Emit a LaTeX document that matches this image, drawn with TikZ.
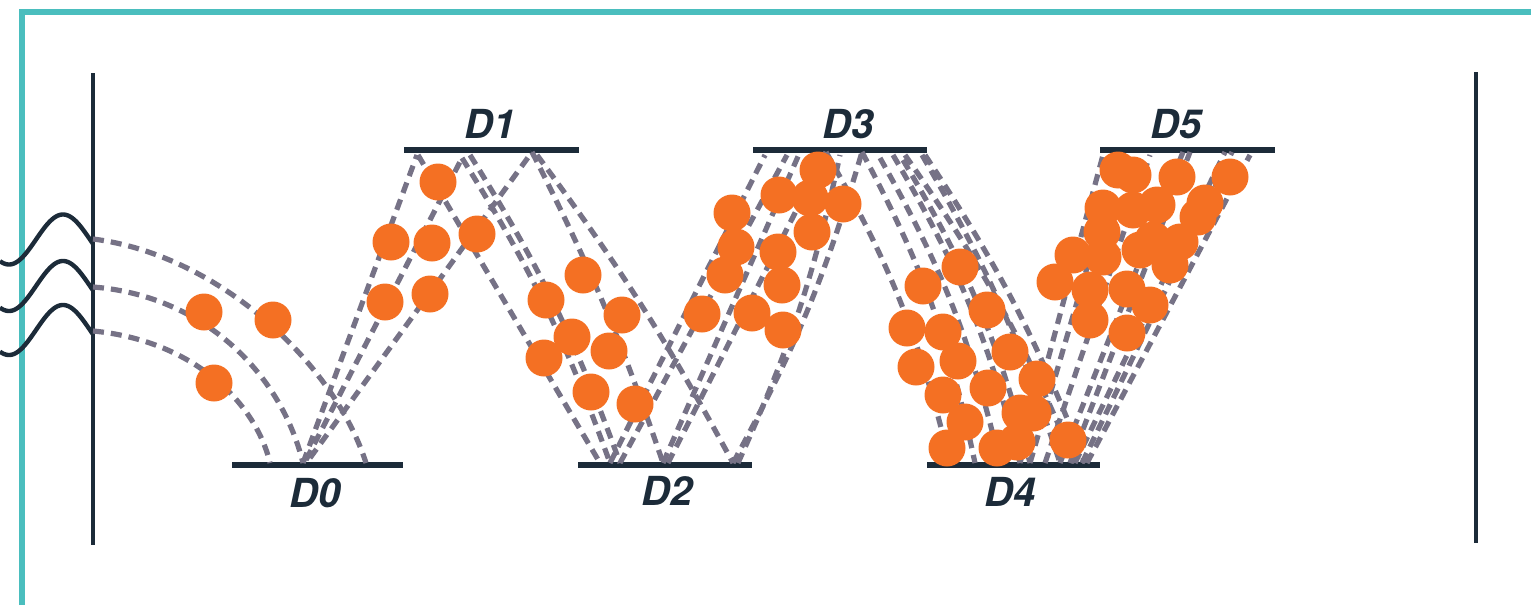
\documentclass[tikz,border=0pt]{standalone}
\usepackage{fontspec}
\newfontfamily\dynfont{TeX Gyre Heros}
\definecolor{frameteal}{HTML}{4ABEBE}
\definecolor{navy}{HTML}{1C2B39}
\definecolor{pathgray}{HTML}{767286}
\definecolor{electron}{HTML}{F47023}
\tikzset{
  frameline/.style={line width=6.5pt, frameteal},
  wall/.style={line width=4.6pt, navy},
  dynode/.style={line width=6pt, navy},
  wavy/.style={line width=4.4pt, navy},
  traj/.style={line width=5.2pt, pathgray, dash pattern=on 11pt off 7pt},
  dynlabel/.style={inner sep=0pt, text=navy, font=\dynfont\bfseries\itshape\fontsize{40}{40}\selectfont},
}
\begin{document}
\begin{tikzpicture}[x=1pt, y=-1pt]
\useasboundingbox (0,0) rectangle (1531,605);

% outer frame
\draw[frameline] (22,605) -- (22,12) -- (1531,12);

% photocathode window and anode wall
\draw[wall] (93,73) -- (93,545);
\draw[wall] (1476,72) -- (1476,543);

% incoming light waves
\foreach \c in {239.5,286,330}
  \draw[wavy] plot[domain=0:93, samples=80, smooth] (\x, {\c + 25*cos(3.3333*(\x-9))});

% dynodes
\draw[dynode] (232,465) -- (403,465);
\draw[dynode] (404,150) -- (579,150);
\draw[dynode] (578,465) -- (752,465);
\draw[dynode] (753,150) -- (927,150);
\draw[dynode] (927,465) -- (1100,465);
\draw[dynode] (1100,150) -- (1275,150);

\node[dynlabel] (d0) at (315,493) {D0};
\node[dynlabel] (d1) at (490,124) {D1};
\node[dynlabel] (d2) at (667,491) {D2};
\node[dynlabel] (d3) at (848,124) {D3};
\node[dynlabel] (d4) at (1010,492) {D4};
\node[dynlabel] (d5) at (1176,124) {D5};

% photoelectrons towards D0
\draw[traj] (93,239) .. controls (220,255) and (335,365) .. (366,463);
\draw[traj] (93,287) .. controls (200,295) and (280,370) .. (303,463);
\draw[traj] (93,331) .. controls (190,340) and (255,400) .. (270,463);

% D0 -> D1
\draw[traj] (303,463) -- (417,155);
\draw[traj] (306,460) -- (462,158);
\draw[traj] (310,458) -- (532,152);

% D1 -> D2
\draw[traj] (418,155) -- (600,463);
\draw[traj] (462,158) to[bend left=6] (610,463);
\draw[traj] (470,155) to[bend left=6] (620,463);
\draw[traj] (532,152) to[bend left=4] (663,463);
\draw[traj] (537,155) to[bend left=4] (733,463);

% D2 -> D3
\draw[traj] (610,463) -- (765,155);
\draw[traj] (620,463) -- (787,155);
\draw[traj] (663,463) -- (800,152);
\draw[traj] (668,463) -- (826,152);
\draw[traj] (733,463) to[bend right=6] (862,152);
\draw[traj] (738,463) to[bend right=6] (840,155);

% D3 -> D4
\draw[traj] (826,152) to[bend left=8] (950,463);
\draw[traj] (862,152) to[bend left=8] (975,463);
\draw[traj] (880,158) to[bend left=8] (1000,463);
\draw[traj] (893,155) to[bend left=8] (1020,463);
\draw[traj] (903,160) to[bend left=8] (1030,463);
\draw[traj] (905,155) to[bend left=6] (1075,463);
\draw[traj] (922,155) to[bend left=6] (1060,463);
\draw[traj] (925,155) to[bend left=6] (1085,463);

% D4 -> D5
\draw[traj] (1020,463) -- (1103,155);
\draw[traj] (1030,463) -- (1120,155);
\draw[traj] (1045,463) -- (1150,155);
\draw[traj] (1060,463) -- (1183,152);
\draw[traj] (1070,463) -- (1190,152);
\draw[traj] (1075,463) -- (1225,152);
\draw[traj] (1082,463) -- (1232,152);
\draw[traj] (1087,463) -- (1250,155);

% electrons
\foreach \p in {
  (204,312),(273,320),(214,383),
  (438,182),(391,242),(432,243),(477,234),(385,302),(430,294),
  (583,275),(546,300),(622,315),(572,337),(544,358),(609,351),(591,392),(635,404),
  (732,213),(736,247),(725,275),(702,314),(752,313),(783,330),(778,252),(782,285),
  (779,195),(818,170),(843,204),(812,232),(810,198),
  (960,267),(923,286),(987,310),(907,328),(943,332),(958,361),(916,367),(1010,352),
  (1037,379),(988,388),(943,395),(965,422),(947,448),(997,448),(1017,442),(1020,413),
  (1033,413),(1068,440),
  (1118,170),(1133,175),(1177,177),(1230,177),(1103,208),(1133,210),(1157,205),
  (1205,203),(1198,217),(1180,242),(1153,240),(1140,250),(1170,265),(1102,232),
  (1073,255),(1103,257),(1055,282),(1090,290),(1127,289),(1150,305),(1090,320),(1127,333)}
  \fill[electron] \p circle[radius=18.5pt];
\end{tikzpicture}
\end{document}
